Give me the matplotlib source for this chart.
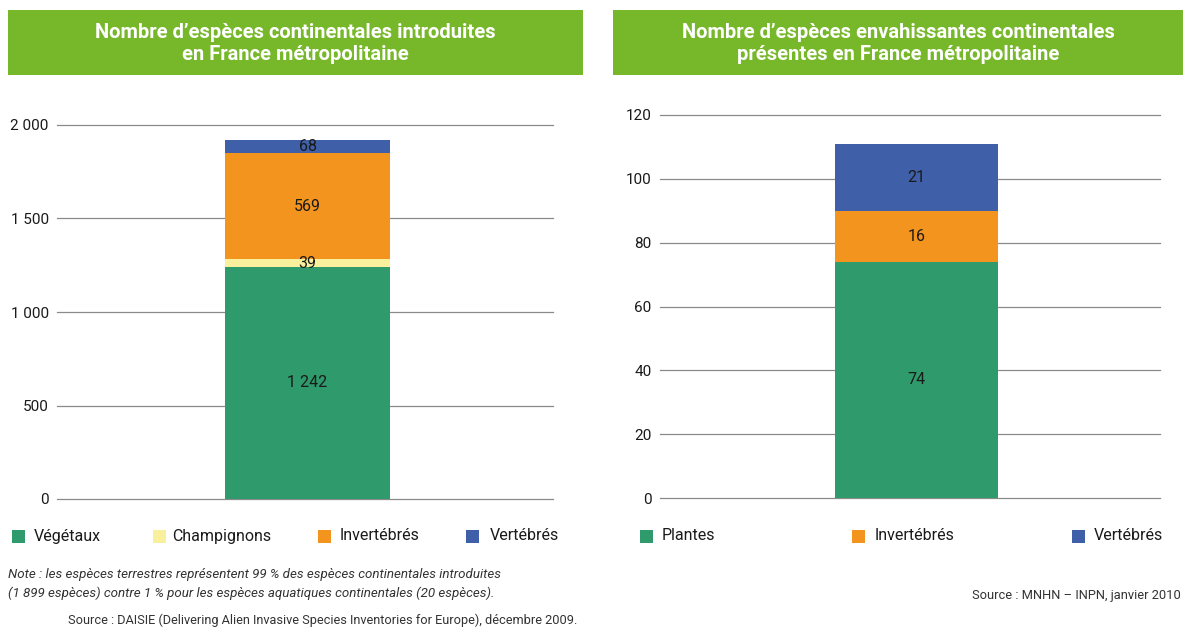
import matplotlib
matplotlib.use("Agg")
import matplotlib.pyplot as plt
from matplotlib.patches import Rectangle

plt.rcParams['font.family'] = ['Roboto', 'DejaVu Sans']

# ---- data ----
left_categories = ["Végétaux", "Champignons", "Invertébrés", "Vertébrés"]
left_values = [1242, 39, 569, 68]
left_labels = ["1 242", "39", "569", "68"]
left_ticks = [0, 500, 1000, 1500, 2000]
left_ticklabels = ["0", "500", "1 000", "1 500", "2 000"]

right_categories = ["Plantes", "Invertébrés", "Vertébrés"]
right_values = [74, 16, 21]
right_labels = ["74", "16", "21"]
right_ticks = [0, 20, 40, 60, 80, 100, 120]
right_ticklabels = ["0", "20", "40", "60", "80", "100", "120"]

left_colors = ["#2f9b6c", "#f8f09c", "#f3941f", "#3f5fa9"]
right_colors = ["#2f9b6c", "#f3941f", "#3f5fa9"]

title_left = "Nombre d’espèces continentales introduites\nen France métropolitaine"
title_right = "Nombre d’espèces envahissantes continentales\nprésentes en France métropolitaine"
note = ("Note : les espèces terrestres représentent 99 % des espèces continentales introduites\n"
        "(1 899 espèces) contre 1 % pour les espèces aquatiques continentales (20 espèces).")
source_left = "Source : DAISIE (Delivering Alien Invasive Species Inventories for Europe), décembre 2009."
source_right = "Source : MNHN – INPN, janvier 2010"

W, H = 1183, 632
fig = plt.figure(figsize=(W / 100, H / 100), dpi=100)
fig.patch.set_facecolor("white")

def px_axes(x0, y0, x1, y1):
    return fig.add_axes([x0 / W, 1 - y1 / H, (x1 - x0) / W, (y1 - y0) / H])

banner_green = "#77b82a"

def banner(x0, x1, text):
    fig.patches.append(Rectangle((x0 / W, 1 - 75 / H), (x1 - x0) / W, 65 / H,
                                 transform=fig.transFigure, facecolor=banner_green,
                                 edgecolor="none", zorder=0))
    fig.text((x0 + x1) / 2 / W, 1 - 43 / H, text, ha="center", va="center",
             color="white", fontsize=14.5, fontweight="bold", linespacing=1.2)

banner(8, 583, title_left)
banner(613, 1183, title_right)

def stacked(ax, values, colors, labels, ticks, ticklabels, ymax, bar_x0, bar_x1, ax_x0, ax_x1):
    ax.set_xlim(ax_x0, ax_x1)
    ax.set_ylim(0, ymax)
    bottom = 0
    for v, c, lab in zip(values, colors, labels):
        ax.bar((bar_x0 + bar_x1) / 2, v, width=bar_x1 - bar_x0, bottom=bottom,
               color=c, edgecolor="none", zorder=3)
        ax.text((bar_x0 + bar_x1) / 2, bottom + v / 2, lab, ha="center", va="center",
                fontsize=11.5, color="#1a1a1a", zorder=4)
        bottom += v
    ax.set_yticks(ticks)
    ax.set_yticklabels(ticklabels, fontsize=11, color="#1a1a1a")
    ax.tick_params(axis="y", length=0, pad=6)
    ax.set_xticks([])
    for s in ax.spines.values():
        s.set_visible(False)
    for t in ticks:
        ax.axhline(t, color="#8a8a8a", lw=0.9, zorder=1, clip_on=False)
    ax.set_facecolor("none")

axL = px_axes(57, 125, 553, 499)
stacked(axL, left_values, left_colors, left_labels, left_ticks, left_ticklabels, 2000,
        225, 390, 57, 553)

axR = px_axes(660, 115, 1160, 498)
stacked(axR, right_values, right_colors, right_labels, right_ticks, right_ticklabels, 120,
        835, 998, 660, 1160)

def legend_item(xsq, xtxt, label, color):
    fig.patches.append(Rectangle((xsq / W, 1 - 543 / H), 13 / W, 13 / H,
                                 transform=fig.transFigure, facecolor=color,
                                 edgecolor="none"))
    fig.text(xtxt / W, 1 - 536 / H, label, ha="left", va="center",
             fontsize=11.5, color="#1a1a1a")

for xs, xt, lab, col in zip([12, 153, 318, 466], [34, 172, 340, 490],
                            left_categories, left_colors):
    legend_item(xs, xt, lab, col)
for xs, xt, lab, col in zip([640, 852, 1072], [662, 875, 1094],
                            right_categories, right_colors):
    legend_item(xs, xt, lab, col)

fig.text(8 / W, 1 - 584 / H, note, ha="left", va="center", fontsize=9.6,
         style="italic", color="#333333", linespacing=1.45)
fig.text(68 / W, 1 - 620 / H, source_left, ha="left", va="center", fontsize=9.2,
         color="#333333")
fig.text(1181 / W, 1 - 596 / H, source_right, ha="right", va="center", fontsize=9.3,
         color="#333333")

fig.savefig("out.png", dpi=100, facecolor="white")
